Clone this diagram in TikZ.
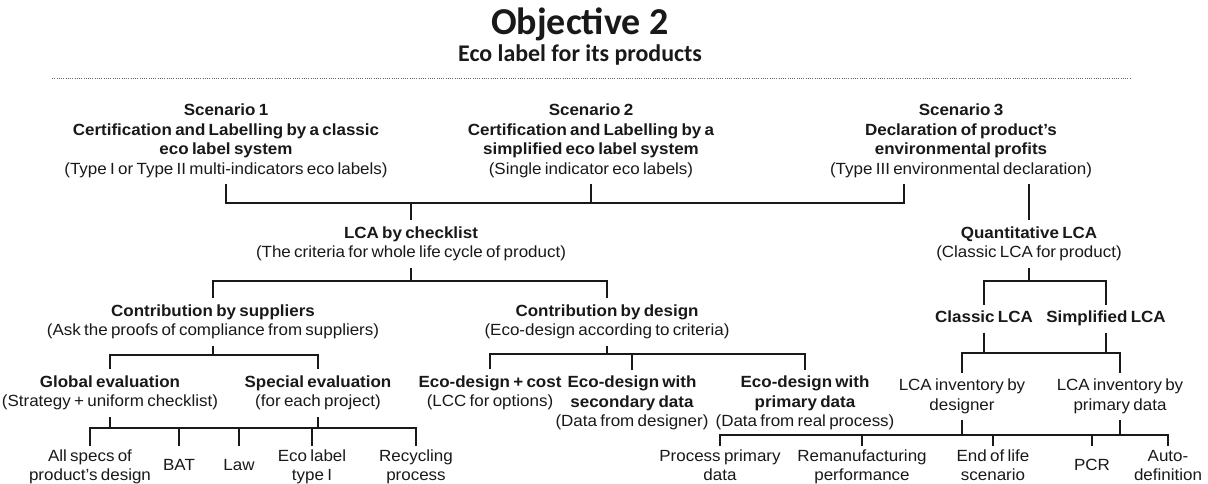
\documentclass[tikz,border=0pt]{standalone}
\usepackage{fontspec}
\setmainfont{Liberation Sans}[FakeStretch=1.05, WordSpace=0.7]
\newfontfamily\headfont{Carlito}
\usetikzlibrary{positioning}

\newcommand{\hdline}[1]{\textbf{#1}\strut}
\newcommand{\txline}[1]{#1\strut}

\begin{document}
\begin{tikzpicture}[x=0.025cm, y=-0.025cm,
  every node/.style={font=\fontsize{11.5}{13.9}\selectfont, text=black!90, inner sep=0pt, outer sep=3pt, align=center},
  link/.style={draw=black!90, line width=1.3pt},
  rule/.style={draw=black!60, densely dotted, line width=0.6pt}]

  \fill[white] (0,0) rectangle (1208,484);
  \useasboundingbox (0,0) rectangle (1208,484);

  % ===== Header =====
  \node[font=\headfont\bfseries\fontsize{27}{30}\selectfont, anchor=base] (title) at (580,35) {Objective 2};
  \node[font=\headfont\bfseries\fontsize{17}{20}\selectfont, anchor=base] (sub) at (580,62) {Eco label for its products};
  \coordinate (ruleL) at (52,78);
  \coordinate (ruleR) at (1130,78);
  \draw[rule] (ruleL) -- (ruleR);

  % ===== Scenarios =====
  \node (s1) at (226,140.9) {\hdline{Scenario 1}\\ \hdline{Certification and Labelling by a classic}\\ \hdline{eco label system}\\ \txline{(Type I or Type II multi-indicators eco labels)}};
  \node (s2) at (591,140.9) {\hdline{Scenario 2}\\ \hdline{Certification and Labelling by a}\\ \hdline{simplified eco label system}\\ \txline{(Single indicator eco labels)}};
  \node (s3) at (961,140.9) {\hdline{Scenario 3}\\ \hdline{Declaration of product’s}\\ \hdline{environmental profits}\\ \txline{(Type III environmental declaration)}};

  % ===== Second level =====
  \node (lcc) at (411,244.2) {\hdline{LCA by checklist}\\ \txline{(The criteria for whole life cycle of product)}};
  \node (qlca) at (1029,244.2) {\hdline{Quantitative LCA}\\ \txline{(Classic LCA for product)}};

  % ===== Checklist branch =====
  \node (csup) at (213,322.2) {\hdline{Contribution by suppliers}\\ \txline{(Ask the proofs of compliance from suppliers)}};
  \node (cdes) at (607,322.2) {\hdline{Contribution by design}\\ \txline{(Eco-design according to criteria)}};

  \node (glob) at (110,393.2) {\hdline{Global evaluation}\\ \txline{(Strategy + uniform checklist)}};
  \node (spec) at (318,393.2) {\hdline{Special evaluation}\\ \txline{(for each project)}};

  \node (ecost) at (490,393.2) {\hdline{Eco-design + cost}\\ \txline{(LCC for options)}};
  \node (esec) at (632,403.2) {\hdline{Eco-design with}\\ \hdline{secondary data}\\ \txline{(Data from designer)}};
  \node (epri) at (805,403.2) {\hdline{Eco-design with}\\ \hdline{primary data}\\ \txline{(Data from real process)}};

  % leaves (left)
  \node (specs) at (90,466.9) {\txline{All specs of}\\ \txline{product’s design}};
  \node (bat) at (179,466.6) {\txline{BAT}};
  \node (law) at (239,466.6) {\txline{Law}};
  \node (ecol) at (312,466.9) {\txline{Eco label}\\ \txline{type I}};
  \node (recy) at (416,466.9) {\txline{Recycling}\\ \txline{process}};

  % ===== Quantitative branch =====
  \node (clca) at (984,318.7) {\hdline{Classic LCA}};
  \node (slca) at (1106,318.7) {\hdline{Simplified LCA}};
  \node (invd) at (962,396.5) {\txline{LCA inventory by}\\ \txline{designer}};
  \node (invp) at (1120,396.5) {\txline{LCA inventory by}\\ \txline{primary data}};

  % leaves (right)
  \node (ppd) at (720,466.9) {\txline{Process primary}\\ \txline{data}};
  \node (reman) at (862,466.9) {\txline{Remanufacturing}\\ \txline{performance}};
  \node (eol) at (993,466.9) {\txline{End of life}\\ \txline{scenario}};
  \node (pcr) at (1092,466.6) {\txline{PCR}};
  \node (autodef) at (1168,466.9) {\txline{Auto-}\\ \txline{definition}};

  % ===== Connectors =====
  % scenarios -> checklist
  \coordinate (hubA) at (411,203);
  \coordinate (s3foot) at (904,184);
  \draw[link] (s1.south) -- (s1.south |- hubA) -- (s3foot |- hubA) -- (s3foot);
  \draw[link] (s2.south) -- (s2.south |- hubA);
  \draw[link] (hubA) -- (lcc.north);
  % scenario 3 -> quantitative
  \draw[link] (s3.south -| qlca.north) -- (qlca.north);

  % checklist -> contributions
  \coordinate (hubB) at (411,281);
  \draw[link] (lcc.south) -- (hubB);
  \draw[link] (csup.north) -- (csup.north |- hubB) -- (cdes.north |- hubB) -- (cdes.north);

  % suppliers -> evaluations
  \coordinate (hubC) at (213,355);
  \draw[link] (csup.south) -- (hubC);
  \draw[link] (glob.north) -- (glob.north |- hubC) -- (spec.north |- hubC) -- (spec.north);

  % evaluations -> leaves
  \coordinate (barL) at (250,428);
  \coordinate (tipL) at (250,446);
  \draw[link] (glob.south) -- (glob.south |- barL);
  \draw[link] (spec.south) -- (spec.south |- barL);
  \draw[link] (specs.north |- tipL) -- (specs.north |- barL) -- (recy.north |- barL) -- (recy.north |- tipL);
  \foreach \nd in {bat,law,ecol}
    \draw[link] (\nd.north |- barL) -- (\nd.north |- tipL);

  % design -> eco-design options
  \coordinate (hubD) at (607,354);
  \draw[link] (cdes.south) -- (hubD);
  \draw[link] (ecost.north) -- (ecost.north |- hubD) -- (epri.north |- hubD) -- (epri.north);
  \draw[link] (esec.north) -- (esec.north |- hubD);

  % quantitative -> classic / simplified
  \coordinate (hubE) at (1029,281);
  \draw[link] (qlca.south) -- (hubE);
  \draw[link] (clca.north) -- (clca.north |- hubE) -- (slca.north |- hubE) -- (slca.north);

  % classic / simplified -> inventories
  \coordinate (barR) at (1040,353);
  \draw[link] (clca.south) -- (clca.south |- barR);
  \draw[link] (slca.south) -- (slca.south |- barR);
  \draw[link] (invd.north) -- (invd.north |- barR) -- (invp.north |- barR) -- (invp.north);

  % inventories -> leaves
  \coordinate (barB) at (940,435);
  \coordinate (tipB) at (940,446);
  \draw[link] (invd.south) -- (invd.south |- barB);
  \draw[link] (invp.south) -- (invp.south |- barB);
  \draw[link] (ppd.north |- tipB) -- (ppd.north |- barB) -- (autodef.north |- barB) -- (autodef.north |- tipB);
  \foreach \nd in {reman,eol,pcr}
    \draw[link] (\nd.north |- barB) -- (\nd.north |- tipB);

\end{tikzpicture}
\end{document}
